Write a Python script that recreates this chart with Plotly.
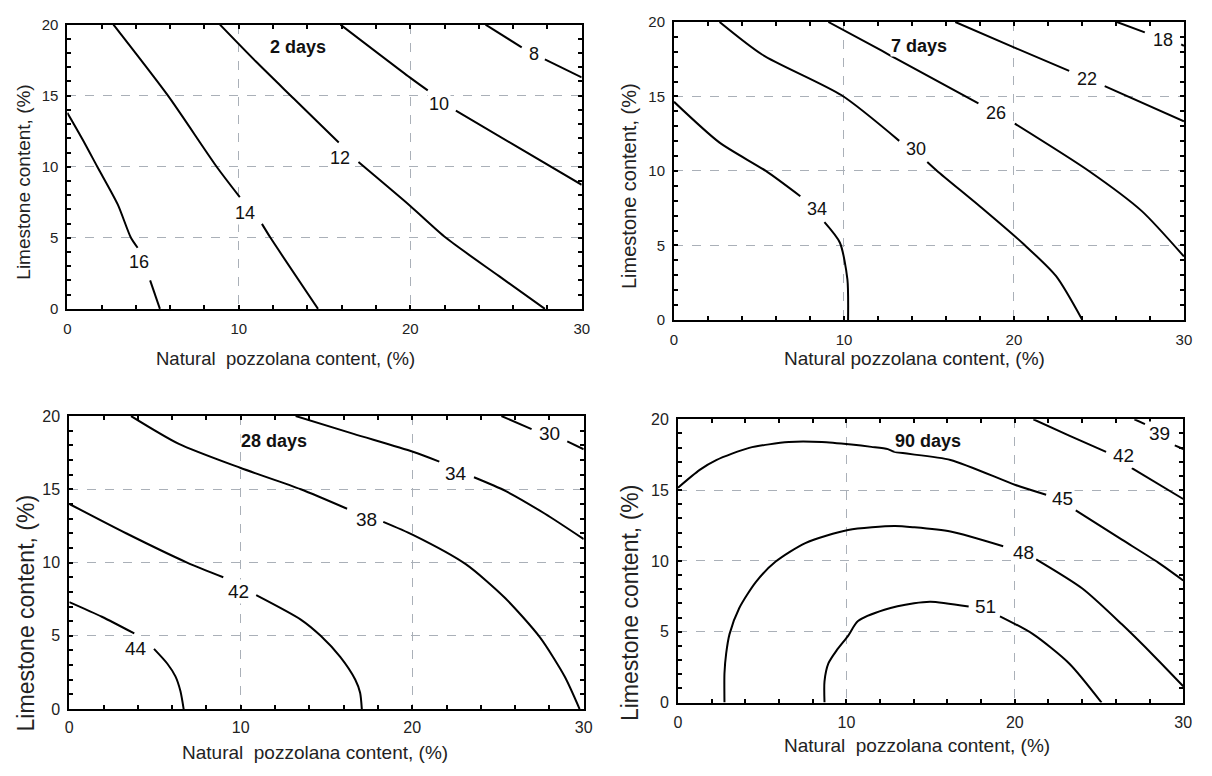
import plotly.graph_objects as go

FONT = "Liberation Sans, Arial, sans-serif"

# ------------------------------------------------------------------ data
x_tick_vals = [0, 10, 20, 30]
y_tick_vals = [0, 5, 10, 15, 20]

panel_titles = ["2 days", "7 days", "28 days", "90 days"]
panel_title_x = [13.43, 14.42, 11.92, 14.85]
panel_title_y = [18.4, 18.36, 18.33, 18.5]

# 2 days
d2_levels = [16, 14, 12, 10, 8]
d2_x = [
    [0, 0.9, 1.75, 2.94, 3.71, 4.1, None, 4.83, 5.4],
    [2.69, 5.87, 8.71, 10.06, None, 11.35, 11.85, 14.62],
    [8.9, 11.0, 13.2, 15.83, None, 16.98, 20.0, 22.08, 25.16, 27.85],
    [15.93, 19.97, 21.02, None, 22.66, 26.12, 30],
    [24.39, 26.5, None, 27.85, 30],
]
d2_y = [
    [13.8, 11.9, 10.0, 7.35, 5.0, 4.3, None, 2.0, 0],
    [20, 15, 10, 7.86, None, 5.98, 5.0, 0],
    [20, 17.4, 14.8, 11.7, None, 10.33, 7.24, 5.0, 2.32, 0],
    [20, 16.29, 15.37, None, 13.95, 11.48, 8.73],
    [20, 18.4, None, 17.55, 16.29],
]
d2_lab_x = [4.19, 10.35, 15.93, 21.7, 27.2]
d2_lab_y = [3.28, 6.78, 10.6, 14.45, 17.9]

# 7 days
d7_levels = [34, 30, 26, 22, 18]
d7_x = [
    [0, 2.68, 5.4, 7.43, None, 8.85, 9.76, 10.2, 10.24],
    [2.68, 5.2, 9.86, 13.25, None, 14.9, 15.48, 18.2, 20.53, 22.47, 24.02],
    [9.08, 12.22, 12.96, 17.91, None, 20.05, 24.41, 27.51, 30],
    [16.55, 20.1, 23.25, None, 25.34, 30],
    [26.06, 27.7, None, 29.84, 30],
]
d7_y = [
    [14.64, 11.9, 10.0, 8.3, None, 6.56, 5.18, 2.73, 0],
    [20, 17.8, 15.08, 12.02, None, 10.6, 10.0, 7.43, 5.13, 2.95, 0],
    [20, 18.07, 17.6, 14.53, None, 13.18, 10.0, 7.32, 4.26],
    [20, 18.25, 16.72, None, 15.69, 13.33],
    [20, 19.3, None, 18.5, 18.4],
]
d7_lab_x = [8.4, 14.22, 18.94, 24.31, 28.78]
d7_lab_y = [7.43, 11.47, 13.88, 16.2, 18.8]

# 28 days
d28_levels = [44, 42, 38, 34, 30]
d28_x = [
    [0, 1.9, 3.79, None, 4.94, 5.71, 6.19, 6.48, 6.67],
    [0, 3.31, 6.87, 8.98, None, 10.9, 13.5, 14.66, 15.8, 16.68, 16.96, 17.06],
    [3.6, 6.39, 10.0, 13.5, 16.2, None, 18.31, 20.04, 23.12, 25.43, 27.45, 28.89, 29.76],
    [13.2, 16.58, 20.04, 21.58, None, 23.6, 25.43, 27.74, 30],
    [25.2, 26.96, None, 29.04, 30],
]
d28_y = [
    [7.3, 6.3, 5.16, None, 4.11, 3.11, 2.23, 1.23, 0],
    [14.0, 12.0, 10.0, 9.0, None, 7.78, 6.11, 5.0, 3.56, 2.0, 1.11, 0],
    [20, 18.1, 16.45, 15.0, 13.67, None, 12.78, 11.89, 9.89, 7.56, 4.89, 2.22, 0],
    [20, 18.78, 17.56, 16.89, None, 15.82, 14.89, 13.33, 11.6],
    [20, 19.11, None, 18.27, 17.73],
]
d28_lab_x = [3.88, 9.85, 17.31, 22.54, 28.03]
d28_lab_y = [4.11, 8.0, 12.93, 16.11, 18.78]

# 90 days
d90_levels = [51, 48, 45, 42, 39]
d90_x = [
    [8.7, 8.7, 8.93, 9.42, 10.1, 10.69, 12.26, 14.02, 15.0, 17.26, None, 19.12, 21.08, 23.23, 25.15],
    [2.76, 2.76, 2.86, 3.06, 3.64, 4.62, 5.8, 7.56, 10.1, 12.85, 14.02, 16.18, 19.31, None,
     21.27, 24.01, 26.36, 28.32, 30],
    [0, 1.29, 2.27, 4.23, 6.58, 8.54, 10.3, 11.48, 12.46, 12.85, 16.18, 20.04, 21.86, None,
     23.62, 26.36, 28.52, 30],
    [21.1, 23.23, 25.42, None, 26.95, 30],
    [27.1, 27.73, None, 29.5, 30],
]
d90_y = [
    [0, 1.5, 2.76, 3.68, 4.71, 5.75, 6.55, 7.01, 7.12, 6.78, None, 6.09, 4.83, 2.76, 0],
    [0, 2.07, 3.45, 4.83, 6.67, 8.5, 9.95, 11.26, 12.18, 12.46, 12.37, 12.07, 11.03, None,
     10.11, 8.05, 5.52, 3.22, 1.15],
    [15.17, 16.43, 17.12, 17.98, 18.39, 18.39, 18.21, 18.05, 17.89, 17.7, 17.13, 15.36, 14.67, None,
     13.56, 11.5, 9.88, 8.62],
    [20, 18.85, 17.7, None, 16.55, 14.37],
    [20, 19.66, None, 18.16, 17.9],
]
d90_lab_x = [18.24, 20.49, 22.84, 26.46, 28.61]
d90_lab_y = [6.78, 10.57, 14.37, 17.47, 18.97]

# ------------------------------------------------------------------ layout helpers
W, H = 1212, 776
panels = [
    dict(levels=d2_levels, xs=d2_x, ys=d2_y, lx=d2_lab_x, ly=d2_lab_y,
         box=(64, 584, 16, 307), big=False, xstand=5,
         xt="Natural\u00a0 pozzolana content, (%)", xt_pos=(285, 358), xt_size=18.5,
         yt_pos=(20, 177), yt_size=19),
    dict(levels=d7_levels, xs=d7_x, ys=d7_y, lx=d7_lab_x, ly=d7_lab_y,
         box=(677.3, 1192.7, 13.3, 318.3), big=False, xstand=5,
         xt="Natural pozzolana content, (%)", xt_pos=(920, 358), xt_size=19,
         yt_pos=(632, 181), yt_size=20),
    dict(levels=d28_levels, xs=d28_x, ys=d28_y, lx=d28_lab_x, ly=d28_lab_y,
         box=(66, 586, 416.7, 716.7), big=True, xstand=3,
         xt="Natural\u00a0 pozzolana content, (%)", xt_pos=(314, 761), xt_size=19,
         yt_pos=(22, 618), yt_size=23),
    dict(levels=d90_levels, xs=d90_x, ys=d90_y, lx=d90_lab_x, ly=d90_lab_y,
         box=(681.3, 1192, 420, 710), big=True, xstand=4,
         xt="Natural\u00a0 pozzolana content, (%)", xt_pos=(923, 754), xt_size=19,
         yt_pos=(633, 608), yt_size=23),
]

fig = go.Figure()
annotations = []
layout_axes = {}

for i, p in enumerate(panels):
    n = "" if i == 0 else str(i + 1)
    xa, ya = "x" + n, "y" + n
    x0, x1, yt, yb = p["box"]
    tick_size = 16 if p["big"] else 15
    lab_size = 19 if p["big"] else 18
    common = dict(
        showline=True, linecolor="black", linewidth=2, mirror="allticks",
        ticks="inside", ticklen=4, tickwidth=1.5, tickcolor="black",
        showgrid=True, gridcolor="#aab0b8", gridwidth=1, griddash="dash",
        zeroline=False, tickfont=dict(family=FONT, size=tick_size, color="#222"),
        fixedrange=True,
    )
    layout_axes["xaxis" + n] = dict(
        common, domain=[x0 / W, x1 / W], anchor=ya, range=[0, 30],
        tickvals=x_tick_vals, ticklabelstandoff=p["xstand"],
        minor=dict(dtick=2, tick0=0, ticks="inside", ticklen=4, tickwidth=1.5,
                   tickcolor="black", showgrid=False),
    )
    layout_axes["yaxis" + n] = dict(
        common, domain=[1 - yb / H, 1 - yt / H], anchor=xa, range=[0, 20],
        tickvals=y_tick_vals, ticklabelstandoff=4,
        minor=dict(dtick=1, tick0=0, ticks="inside", ticklen=4, tickwidth=1.5,
                   tickcolor="black", showgrid=False),
    )
    for lev, xs, ys in zip(p["levels"], p["xs"], p["ys"]):
        fig.add_trace(go.Scatter(
            x=xs, y=ys, mode="lines", xaxis=xa, yaxis=ya,
            line=dict(color="black", width=2, shape="spline", smoothing=0.7),
            connectgaps=False, showlegend=False, hoverinfo="skip", name=str(lev),
        ))
    for lev, lx, ly in zip(p["levels"], p["lx"], p["ly"]):
        annotations.append(dict(
            x=lx, y=ly, xref=xa, yref=ya, text=str(lev), showarrow=False,
            font=dict(family=FONT, size=lab_size, color="#111"),
            bgcolor="white", borderpad=1,
        ))
    annotations.append(dict(
        x=panel_title_x[i], y=panel_title_y[i], xref=xa, yref=ya,
        text="<b>%s</b>" % panel_titles[i], showarrow=False,
        font=dict(family=FONT, size=18, color="#111"), bgcolor="white", borderpad=0,
    ))
    # axis titles
    annotations.append(dict(
        x=p["xt_pos"][0] / W, y=1 - p["xt_pos"][1] / H, xref="paper", yref="paper",
        text=p["xt"], showarrow=False, xanchor="center", yanchor="middle",
        font=dict(family=FONT, size=p["xt_size"], color="#222"),
    ))
    annotations.append(dict(
        x=p["yt_pos"][0] / W, y=1 - p["yt_pos"][1] / H, xref="paper", yref="paper",
        text="Limestone content, (%)", showarrow=False, textangle=-90,
        xanchor="center", yanchor="middle",
        font=dict(family=FONT, size=p["yt_size"], color="#222"),
    ))

fig.update_layout(
    width=W, height=H, margin=dict(l=0, r=0, t=0, b=0),
    paper_bgcolor="white", plot_bgcolor="white",
    annotations=annotations, showlegend=False, **layout_axes,
)

fig.write_html("out.html", config={"displayModeBar": False})
